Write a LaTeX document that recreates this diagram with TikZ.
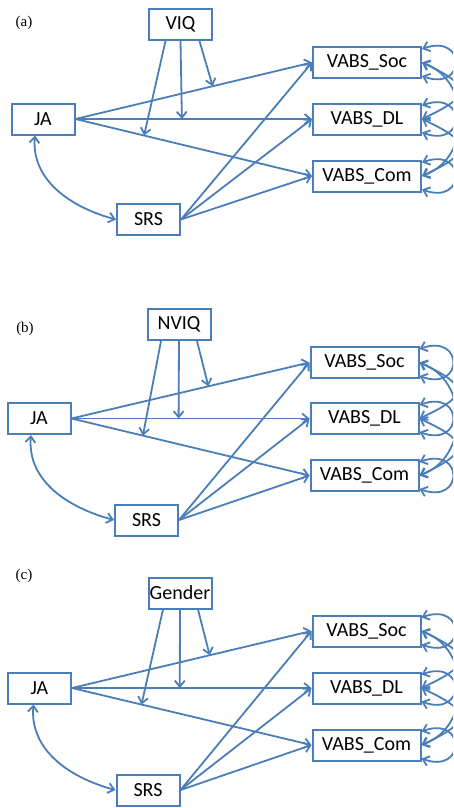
\documentclass[tikz,border=0pt]{standalone}
\usepackage{fontspec}
\setmainfont{Carlito}
\newfontfamily\tnr{Liberation Serif}
\usetikzlibrary{arrows.meta}
\definecolor{pathblue}{RGB}{74,126,187}

\begin{document}
\begin{tikzpicture}[x=1pt,y=-1pt,
  >={Straight Barb[length=6pt,width=10pt]},
  var/.style={draw=pathblue,line width=2pt,fill=white,minimum width=63pt,minimum height=31pt,inner sep=0pt,font=\fontsize{20}{20}\selectfont},
  outc/.style={var,minimum width=108pt},
  lab/.style={font=\tnr\fontsize{15}{15}\selectfont},
  link/.style={draw=pathblue,line width=1.8pt}]
\clip (0,0) rectangle (453,808) ;

% (a)
\node[lab] (taga) at (24,23) {(a)} ;
\node[var] (VIQ) at (180.5,24.5) {VIQ} ;
\node[var] (JAa) at (43,119) {JA} ;
\node[var] (SRSa) at (148.5,219.5) {SRS} ;
\node[outc] (Soca) at (367,62.5) {VABS\_Soc} ;
\node[outc] (DLa) at (367,119) {VABS\_DL} ;
\node[outc] (Coma) at (367,176) {VABS\_Com} ;

\draw[link,->] (JAa.east) -- coordinate[pos=0.58] (ma1) (Soca.west) ;
\draw[link,->] (JAa.east) -- coordinate[pos=0.45] (ma2) (DLa.west) ;
\draw[link,->] (JAa.east) -- coordinate[pos=0.29] (ma3) (Coma.west) ;
\draw[link,->] (SRSa.east) -- (Soca.west) ;
\draw[link,->] (SRSa.east) -- (DLa.west) ;
\draw[link,->] (SRSa.east) -- (Coma.west) ;
\draw[link,<->] ([xshift=-8pt]JAa.south) to[out=-95,in=165] (SRSa.west) ;
\draw[link,->] ([xshift=19pt]VIQ.south) -- (ma1) ;
\draw[link,->] (VIQ.south) -- (ma2) ;
\draw[link,->] ([xshift=-15pt]VIQ.south) -- (ma3) ;

\draw[link,<->] ([yshift=-3pt]Soca.north east) to[out=20,in=-20,looseness=4.5] ([yshift=3pt]Soca.south east) ;
\draw[link,<->] ([yshift=-3pt]DLa.north east) to[out=20,in=-20,looseness=4.5] ([yshift=3pt]DLa.south east) ;
\draw[link,<->] ([yshift=-3pt]Coma.north east) to[out=20,in=-20,looseness=4.5] ([yshift=3pt]Coma.south east) ;
\draw[link,<->] (Soca.east) to[out=-25,in=25,looseness=2.5] (DLa.east) ;
\draw[link,<->] (DLa.east) to[out=-25,in=25,looseness=2.5] (Coma.east) ;
\draw[link,<->] (Soca.east) to[out=-20,in=20,looseness=1.2] (Coma.east) ;

% (b)
\node[lab] (tagb) at (25,329) {(b)} ;
\node[var] (NVIQ) at (179,324.5) {NVIQ} ;
\node[var] (JAb) at (39,418.5) {JA} ;
\node[var] (SRSb) at (146.5,520) {SRS} ;
\node[outc] (Socb) at (364.5,362.5) {VABS\_Soc} ;
\node[outc] (DLb) at (364.5,418.5) {VABS\_DL} ;
\node[outc] (Comb) at (364.5,475.5) {VABS\_Com} ;

\draw[link,->] (JAb.east) -- coordinate[pos=0.575] (mb1) (Socb.west) ;
\draw[link,->] (JAb.east) -- coordinate[pos=0.45] (mb2) (DLb.west) ;
\draw[link,->] (JAb.east) -- coordinate[pos=0.30] (mb3) (Comb.west) ;
\draw[link,->] (SRSb.east) -- (Socb.west) ;
\draw[link,->] (SRSb.east) -- (DLb.west) ;
\draw[link,->] (SRSb.east) -- (Comb.west) ;
\draw[link,<->] ([xshift=-8pt]JAb.south) to[out=-95,in=165] (SRSb.west) ;
\draw[link,->] ([xshift=18pt]NVIQ.south) -- (mb1) ;
\draw[link,->] (NVIQ.south) -- (mb2) ;
\draw[link,->] ([xshift=-18pt]NVIQ.south) -- (mb3) ;

\draw[link,<->] ([yshift=-3pt]Socb.north east) to[out=20,in=-20,looseness=4.5] ([yshift=3pt]Socb.south east) ;
\draw[link,<->] ([yshift=-3pt]DLb.north east) to[out=20,in=-20,looseness=4.5] ([yshift=3pt]DLb.south east) ;
\draw[link,<->] ([yshift=-3pt]Comb.north east) to[out=20,in=-20,looseness=4.5] ([yshift=3pt]Comb.south east) ;
\draw[link,<->] (Socb.east) to[out=-25,in=25,looseness=2.5] (DLb.east) ;
\draw[link,<->] (DLb.east) to[out=-25,in=25,looseness=2.5] (Comb.east) ;
\draw[link,<->] (Socb.east) to[out=-20,in=20,looseness=1.2] (Comb.east) ;

% (c)
\node[lab] (tagc) at (24,576) {(c)} ;
\node[var] (Gender) at (180,593) {Gender} ;
\node[var] (JAc) at (39.5,688) {JA} ;
\node[var] (SRSc) at (148,790) {SRS} ;
\node[outc] (Socc) at (366.5,631) {VABS\_Soc} ;
\node[outc] (DLc) at (366.5,688) {VABS\_DL} ;
\node[outc] (Comc) at (366.5,745) {VABS\_Com} ;

\draw[link,->] (JAc.east) -- coordinate[pos=0.575] (mc1) (Socc.west) ;
\draw[link,->] (JAc.east) -- coordinate[pos=0.45] (mc2) (DLc.west) ;
\draw[link,->] (JAc.east) -- coordinate[pos=0.29] (mc3) (Comc.west) ;
\draw[link,->] (SRSc.east) -- (Socc.west) ;
\draw[link,->] (SRSc.east) -- (DLc.west) ;
\draw[link,->] (SRSc.east) -- (Comc.west) ;
\draw[link,<->] ([xshift=-6pt]JAc.south) to[out=-95,in=165] (SRSc.west) ;
\draw[link,->] ([xshift=18pt]Gender.south) -- (mc1) ;
\draw[link,->] (Gender.south) -- (mc2) ;
\draw[link,->] ([xshift=-17pt]Gender.south) -- (mc3) ;

\draw[link,<->] ([yshift=-3pt]Socc.north east) to[out=20,in=-20,looseness=4.5] ([yshift=3pt]Socc.south east) ;
\draw[link,<->] ([yshift=-3pt]DLc.north east) to[out=20,in=-20,looseness=4.5] ([yshift=3pt]DLc.south east) ;
\draw[link,<->] ([yshift=-3pt]Comc.north east) to[out=20,in=-20,looseness=4.5] ([yshift=3pt]Comc.south east) ;
\draw[link,<->] (Socc.east) to[out=-25,in=25,looseness=2.5] (DLc.east) ;
\draw[link,<->] (DLc.east) to[out=-25,in=25,looseness=2.5] (Comc.east) ;
\draw[link,<->] (Socc.east) to[out=-20,in=20,looseness=1.2] (Comc.east) ;

\end{tikzpicture}
\end{document}
